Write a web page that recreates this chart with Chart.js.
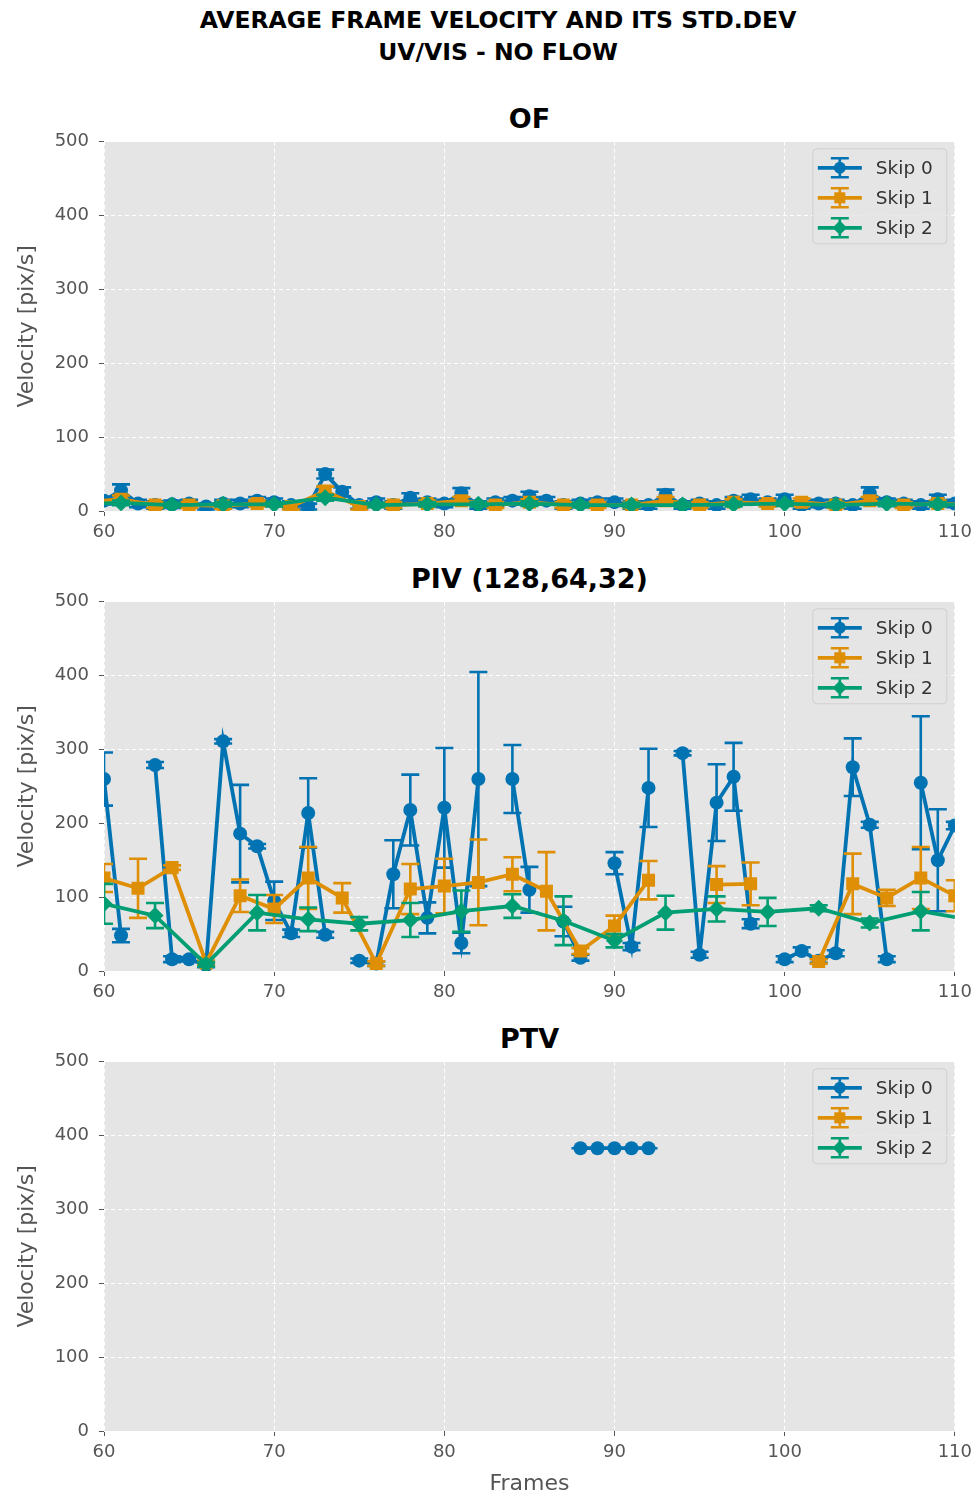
<!DOCTYPE html>
<html>
<head>
<meta charset="utf-8">
<script src="https://cdn.jsdelivr.net/npm/chart.js@4.4.0/dist/chart.umd.min.js"></script>
<style>
  body { margin: 0; background: #fff; width: 978px; height: 1499px; overflow: hidden; position: relative; font-family: 'DejaVu Sans', sans-serif; }
  .sup { position: absolute; left: 0; top: 4px; width: 996px; text-align: center; font-weight: bold; font-size: 23.5px; line-height: 32px; color: #000; }
  .ttl { position: absolute; left: 104px; width: 851px; text-align: center; font-weight: bold; font-size: 27px; line-height: 32px; color: #000; }
  canvas { position: absolute; left: 0; }
</style>
</head>
<body>
<div class="sup">AVERAGE FRAME VELOCITY AND ITS STD.DEV<br>UV/VIS - NO FLOW</div>
<div class="ttl" style="top:103px">OF</div>
<div class="ttl" style="top:563px">PIV (128,64,32)</div>
<div class="ttl" style="top:1023px">PTV</div>
<canvas id="c1" width="978" height="450" style="top:121px"></canvas>
<canvas id="c2" width="978" height="450" style="top:581px"></canvas>
<canvas id="c3" width="978" height="456" style="top:1041px"></canvas>
<script>
// x ticks / y ticks
var xTicks = [60, 70, 80, 90, 100, 110];
var yTicks = [0, 100, 200, 300, 400, 500];
var seriesNames = ['Skip 0', 'Skip 1', 'Skip 2'];

// ---- OF ----
var ofFrames0 = [60,61,62,63,64,65,66,67,68,69,70,71,72,73,74,75,76,77,78,79,80,81,82,83,84,85,86,87,88,89,90,91,92,93,94,95,96,97,98,99,100,101,102,103,104,105,106,107,108,109,110];
var ofSkip0 = [14,28,10,8,9,10,6,10,10,14,12,8,6,50,26,8,12,8,18,12,10,24,8,12,14,20,14,8,10,12,12,8,8,22,8,10,8,14,16,12,16,8,10,10,8,24,12,10,8,16,10];
var ofSkip0Err = [5,8,5,5,5,5,4,5,5,5,5,5,4,6,6,5,5,5,6,5,5,7,5,5,5,6,5,5,5,5,5,5,5,7,5,5,5,5,6,5,6,5,5,5,5,8,5,5,5,6,5];
var ofFrames1 = [59,61,63,65,67,69,71,73,75,77,79,81,83,85,87,89,91,93,95,97,99,101,103,105,107,109,111];
var ofSkip1 = [12,16,8,8,7,10,6,27,6,8,10,14,8,12,8,8,8,14,8,12,10,12,8,14,8,10,8];
var ofSkip1Err = [4,5,4,4,4,4,4,6,4,4,4,5,4,4,4,4,4,5,4,4,4,5,4,5,4,4,4];
var ofFrames2 = [58,61,64,67,70,73,76,79,82,85,88,91,94,97,100,103,106,109,112];
var ofSkip2 = [9,11,8,9,9,18,8,9,9,10,8,8,8,9,10,8,10,9,8];
var ofSkip2Err = [3,3,3,3,3,4,3,3,3,3,3,3,3,3,3,3,3,3,3];

// ---- PIV ----
var pivFrames0 = [60,61,62,63,64,65,66,67,68,69,70,71,72,73,74,75,76,77,78,79,80,81,82,83,84,85,86,87,88,89,90,91,92,93,94,95,96,97,98,99,100,101,102,103,104,105,106,107,108,109,110];
var pivSkip0 = [260,48,null,279,16,16,8,311,186,169,95,51,214,49,null,14,10,131,218,72,221,38,260,null,260,110,null,67,18,null,146,33,248,null,295,22,228,263,64,null,16,27,14,24,276,198,16,null,255,150,197];
var pivSkip0Err = [36,9,null,4,4,3,3,3,66,3,26,5,47,4,null,3,3,46,48,21,81,14,145,null,46,31,null,20,4,null,15,5,53,null,3,4,52,46,6,null,4,5,3,4,39,4,4,null,90,69,5];
var pivFrames1 = [60,62,64,66,68,70,72,74,76,78,80,82,84,86,88,90,92,94,96,98,100,102,104,106,108,110];
var pivSkip1 = [126,112,140,11,102,84,126,99,10,111,115,120,131,108,27,61,123,null,117,118,null,13,118,99,126,102];
var pivSkip1Err = [19,40,3,3,22,19,42,20,3,34,37,58,23,53,4,14,26,null,25,29,null,3,41,11,42,21];
var pivFrames2 = [60,63,66,69,72,75,78,81,84,87,90,93,96,99,102,105,108,111];
var pivSkip2 = [91,75,9,79,70,64,69,81,88,68,41,79,84,80,85,65,81,69];
var pivSkip2Err = [27,17,3,24,16,9,23,28,16,33,9,23,17,19,4,6,26,20];

// ---- PTV ----
var ptvFrames0 = [88,89,90,91,92];
var ptvSkip0 = [383,383,383,383,383];
var ptvSkip0Err = [0,0,0,0,0];

var BLUE = '#0173B2', ORANGE = '#DE8F05', GREEN = '#029E73';
var colors = [BLUE, ORANGE, GREEN];
var styles = ['circle', 'rect', 'rectRot'];
var radii = [7, 9.2, 8.5];

Chart.defaults.font.family = "'DejaVu Sans', sans-serif";

function pts(frames, vals) {
  return frames.map(function (f, i) { return { x: f, y: vals[i] }; });
}

function makeDs(idx, frames, vals, errs) {
  return {
    label: seriesNames[idx],
    data: pts(frames, vals),
    errors: errs,
    borderColor: colors[idx],
    backgroundColor: colors[idx],
    borderWidth: 3.8,
    pointStyle: styles[idx],
    pointRadius: radii[idx],
    pointBorderWidth: 0,
    pointBackgroundColor: colors[idx],
    tension: 0,
    spanGaps: false,
    clip: 0,
    order: 3 - idx
  };
}

function drawMarker(ctx, style, x, y, r) {
  ctx.beginPath();
  if (style === 'circle') {
    ctx.arc(x, y, r, 0, Math.PI * 2);
  } else if (style === 'rect') {
    var s = r * Math.SQRT1_2;
    ctx.rect(x - s, y - s, 2 * s, 2 * s);
  } else {
    ctx.moveTo(x, y - r); ctx.lineTo(x + r, y); ctx.lineTo(x, y + r); ctx.lineTo(x - r, y); ctx.closePath();
  }
  ctx.fill();
}

// grey panel background
var panelBg = {
  id: 'panelBg',
  beforeDraw: function (chart) {
    var a = chart.chartArea, ctx = chart.ctx;
    ctx.save();
    ctx.fillStyle = '#E5E5E5';
    ctx.fillRect(a.left, a.top, a.right - a.left, a.bottom - a.top);
    ctx.restore();
  }
};

// vertical error bars with caps, drawn just under each series
var errorBars = {
  id: 'errorBars',
  beforeDatasetDraw: function (chart, args) {
    var ds = chart.data.datasets[args.index];
    if (!ds.errors) return;
    var ctx = chart.ctx, a = chart.chartArea;
    var xs = chart.scales.x, ys = chart.scales.y;
    ctx.save();
    ctx.beginPath();
    ctx.rect(a.left, a.top, a.right - a.left, a.bottom - a.top);
    ctx.clip();
    ctx.strokeStyle = ds.borderColor;
    ctx.lineWidth = 2.6;
    ds.data.forEach(function (p, i) {
      var e = ds.errors[i];
      if (p.y == null || e == null) return;
      var x = xs.getPixelForValue(p.x);
      var y1 = ys.getPixelForValue(p.y + e);
      var y2 = ys.getPixelForValue(p.y - e);
      ctx.beginPath();
      ctx.moveTo(x, y1); ctx.lineTo(x, y2);
      ctx.moveTo(x - 9, y1); ctx.lineTo(x + 9, y1);
      ctx.moveTo(x - 9, y2); ctx.lineTo(x + 9, y2);
      ctx.stroke();
    });
    ctx.restore();
  }
};

// matplotlib-like legend box in the upper right corner
var mplLegend = {
  id: 'mplLegend',
  afterDraw: function (chart) {
    var ctx = chart.ctx, a = chart.chartArea;
    var bx = a.right - 142, by = a.top + 7, bw = 134, bh = 95, r = 4;
    ctx.save();
    ctx.beginPath();
    ctx.moveTo(bx + r, by);
    ctx.arcTo(bx + bw, by, bx + bw, by + bh, r);
    ctx.arcTo(bx + bw, by + bh, bx, by + bh, r);
    ctx.arcTo(bx, by + bh, bx, by, r);
    ctx.arcTo(bx, by, bx + bw, by, r);
    ctx.closePath();
    ctx.fillStyle = 'rgba(229,229,229,0.8)';
    ctx.fill();
    ctx.strokeStyle = '#d0d0d0';
    ctx.lineWidth = 1;
    ctx.stroke();
    chart.data.datasets.forEach(function (ds, i) {
      var y = by + 19 + i * 30, cx = bx + 27;
      ctx.strokeStyle = ds.borderColor;
      ctx.fillStyle = ds.borderColor;
      ctx.lineWidth = 3.8;
      ctx.beginPath(); ctx.moveTo(bx + 5, y); ctx.lineTo(bx + 49, y); ctx.stroke();
      ctx.lineWidth = 2.6;
      ctx.beginPath();
      ctx.moveTo(cx, y - 9.5); ctx.lineTo(cx, y + 9.5);
      ctx.moveTo(cx - 9, y - 9.5); ctx.lineTo(cx + 9, y - 9.5);
      ctx.moveTo(cx - 9, y + 9.5); ctx.lineTo(cx + 9, y + 9.5);
      ctx.stroke();
      drawMarker(ctx, styles[i], cx, y, radii[i] * 0.85);
      ctx.fillStyle = '#333';
      ctx.font = "18.5px 'DejaVu Sans'";
      ctx.textBaseline = 'middle';
      ctx.textAlign = 'left';
      ctx.fillText(ds.label, bx + 63, y + 1);
    });
    ctx.restore();
  }
};

function makeChart(id, datasets, xTitle, xHeight) {
  return new Chart(document.getElementById(id), {
    type: 'line',
    data: { datasets: datasets },
    plugins: [panelBg, errorBars, mplLegend],
    options: {
      responsive: false,
      animation: false,
      events: [],
      layout: { padding: { top: 14, right: 23, left: 0, bottom: 0 } },
      plugins: { legend: { display: false }, tooltip: { enabled: false } },
      scales: {
        x: {
          type: 'linear',
          min: xTicks[0],
          max: xTicks[xTicks.length - 1],
          afterFit: function (s) { s.height = xHeight; },
          afterBuildTicks: function (s) { s.ticks = xTicks.map(function (v) { return { value: v }; }); },
          ticks: { color: '#555', font: { size: 18 }, padding: 6, maxRotation: 0 },
          grid: { color: '#ffffff', lineWidth: 1, tickColor: '#555', tickLength: 5, tickWidth: 1 },
          border: { display: false, dash: [4, 3] },
          title: { display: !!xTitle, text: xTitle || '', color: '#555', font: { size: 22 }, padding: { top: 0, bottom: 0 } }
        },
        y: {
          min: yTicks[0],
          max: yTicks[yTicks.length - 1],
          afterFit: function (s) { s.width = 104; },
          afterBuildTicks: function (s) { s.ticks = yTicks.map(function (v) { return { value: v }; }); },
          ticks: { color: '#555', font: { size: 18 }, padding: 10 },
          grid: { color: '#ffffff', lineWidth: 1, tickColor: '#555', tickLength: 5, tickWidth: 1 },
          border: { display: false, dash: [4, 3] },
          title: { display: true, text: 'Velocity [pix/s]', color: '#555', font: { size: 22 }, padding: { top: 14, bottom: 0 } }
        }
      }
    }
  });
}

makeChart('c1', [
  makeDs(0, ofFrames0, ofSkip0, ofSkip0Err),
  makeDs(1, ofFrames1, ofSkip1, ofSkip1Err),
  makeDs(2, ofFrames2, ofSkip2, ofSkip2Err)
], null, 60);

makeChart('c2', [
  makeDs(0, pivFrames0, pivSkip0, pivSkip0Err),
  makeDs(1, pivFrames1, pivSkip1, pivSkip1Err),
  makeDs(2, pivFrames2, pivSkip2, pivSkip2Err)
], null, 60);

makeChart('c3', [
  makeDs(0, ptvFrames0, ptvSkip0, ptvSkip0Err),
  makeDs(1, [], [], []),
  makeDs(2, [], [], [])
], 'Frames', 66);
</script>
</body>
</html>
